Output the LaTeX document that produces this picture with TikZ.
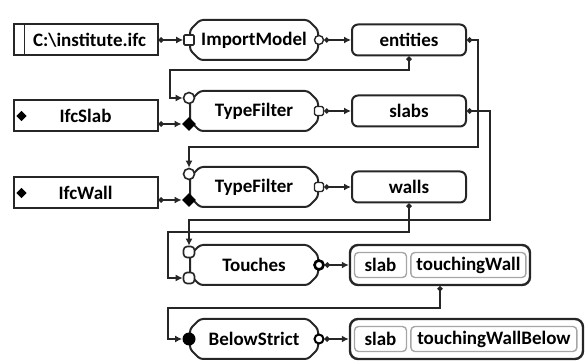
\documentclass[tikz,border=0pt]{standalone}
\usepackage{fontspec}
\setmainfont{Carlito}
\usetikzlibrary{positioning,shapes.misc,shapes.geometric,arrows.meta}

\tikzset{
  every node/.style={font=\fontsize{9.5pt}{11pt}\selectfont\bfseries},
  srcbox/.style={draw=black!85,line width=1pt,minimum width=72pt,minimum height=15.5pt,inner sep=0pt,
    path picture={\draw[line width=.8pt] ([xshift=5.5pt]path picture bounding box.north west) -- ([xshift=5.5pt]path picture bounding box.south west);}},
  litbox/.style={draw=black!85,line width=1pt,minimum width=72pt,minimum height=15.5pt,inner sep=0pt,
    path picture={\fill ([xshift=4pt]path picture bounding box.west) +(-2.6pt,0) -- +(0,2.6pt) -- +(2.6pt,0) -- +(0,-2.6pt) -- cycle;}},
  opbox/.style={chamfered rectangle,chamfered rectangle xsep=2pt,chamfered rectangle ysep=3pt,
    draw=black!85,line width=1pt,minimum width=64pt,minimum height=20pt,inner sep=0pt,rounded corners=1.5pt},
  databox/.style={draw=black!85,line width=1pt,rounded corners=3pt,minimum width=57pt,minimum height=15.5pt,inner sep=0pt},
  tuplebox/.style={draw=black!85,line width=1.2pt,rounded corners=4pt,minimum height=20pt,inner sep=0pt},
  field/.style={draw=black!35,line width=.7pt,rounded corners=2pt,minimum height=12.5pt,inner sep=0pt},
  insq/.style={draw=black!85,line width=.8pt,fill=white,minimum size=5pt,inner sep=0pt,rounded corners=.5pt},
  incirc/.style={circle,draw=black!85,line width=.8pt,fill=white,minimum size=5.5pt,inner sep=0pt},
  indiam/.style={diamond,fill=black,minimum size=7pt,inner sep=0pt},
  inround/.style={draw=black!85,line width=.8pt,fill=white,minimum size=5.5pt,inner sep=0pt,rounded corners=1.8pt},
  indot/.style={circle,fill=black,minimum size=6.5pt,inner sep=0pt},
  outdot/.style={circle,draw=black!85,line width=.7pt,fill=white,minimum size=4.5pt,inner sep=0pt,
    path picture={\fill (path picture bounding box.center) circle (.7pt);}},
  outsq/.style={draw=black!85,line width=.7pt,fill=white,minimum size=4.5pt,inner sep=0pt,rounded corners=.8pt,
    path picture={\fill (path picture bounding box.center) circle (.7pt);}},
  outring/.style={circle,draw=black,line width=1.3pt,fill=white,minimum size=4.5pt,inner sep=0pt},
  flow/.style={draw=black!85,line width=.8pt,{Circle[length=2.6pt]}-{Latex[length=3.5pt,width=3.5pt]}}
}

\begin{document}
\begin{tikzpicture}[x=0.5pt,y=-0.5pt]
  \useasboundingbox (0,0) rectangle (588,362);

  % inputs
  \node[srcbox] (src) at (85.5,40) {\hspace*{4pt}C:\textbackslash institute.ifc};
  \node[litbox] (ifcslab) at (85.5,116) {IfcSlab};
  \node[litbox] (ifcwall) at (85.5,193) {IfcWall};

  % operators
  \node[opbox] (imp) at (254,40) {ImportModel};
  \node[opbox] (tf1) at (254,111) {TypeFilter};
  \node[opbox] (tf2) at (254,187) {TypeFilter};
  \node[opbox] (tch) at (254,265) {Touches};
  \node[opbox] (bls) at (254,339) {BelowStrict};

  % results
  \node[databox] (ent) at (409,40) {entities};
  \node[databox] (slabs) at (409,111) {slabs};
  \node[databox] (walls) at (409,187) {walls};
  \node[tuplebox,minimum width=90pt] (tup1) at (440,265) {};
  \node[field,minimum width=26pt,right=2.5pt of tup1.west] (tup1a) {slab};
  \node[field,minimum width=57.5pt,right=1.5pt of tup1a] (tup1b) {touchingWall};
  \node[tuplebox,minimum width=116.5pt] (tup2) at (466.5,339) {};
  \node[field,minimum width=26pt,right=2.5pt of tup2.west] (tup2a) {slab};
  \node[field,minimum width=83pt,right=1.5pt of tup2a] (tup2b) {touchingWallBelow};

  % ports
  \node[insq] (imp-in) at (imp.west) {};
  \node[outdot] (imp-out) at (imp.east) {};
  \node[incirc] (tf1-a) at ([yshift=6.5pt]tf1.west) {};
  \node[indiam] (tf1-b) at ([yshift=-6.5pt]tf1.west) {};
  \node[outsq] (tf1-out) at (tf1.east) {};
  \node[incirc] (tf2-a) at ([yshift=6.5pt]tf2.west) {};
  \node[indiam] (tf2-b) at ([yshift=-6.5pt]tf2.west) {};
  \node[outsq] (tf2-out) at (tf2.east) {};
  \node[inround] (tch-a) at ([yshift=6.5pt]tch.west) {};
  \node[inround] (tch-b) at ([yshift=-6.5pt]tch.west) {};
  \node[outring] (tch-out) at (tch.east) {};
  \node[indot] (bls-in) at (bls.west) {};
  \node[outring,line width=1pt] (bls-out) at (bls.east) {};

  % connectors
  \draw[flow] (src.east) -- (imp-in);
  \draw[flow] (imp-out) -- (ent);
  \draw[flow] (tf1-out) -- (slabs);
  \draw[flow] (tf2-out) -- (walls);
  \draw[flow] (tch-out) -- (tup1);
  \draw[flow] (bls-out) -- (tup2);
  \draw[flow] (tf1-b -| ifcslab.east) -- (tf1-b);
  \draw[flow] (tf2-b -| ifcwall.east) -- (tf2-b);
  \draw[flow] (ent.south) |- (170,70) |- (tf1-a);
  \draw[flow] (ent.east) -| (478,147) -| (tf2-a);
  \draw[flow] (slabs.east) -| (490,220) -| (tch-a);
  \draw[flow] (walls.south) |- (168,232) |- (tch-b);
  \draw[flow] (tup1.south) |- (168,308) |- (bls-in);
\end{tikzpicture}
\end{document}
